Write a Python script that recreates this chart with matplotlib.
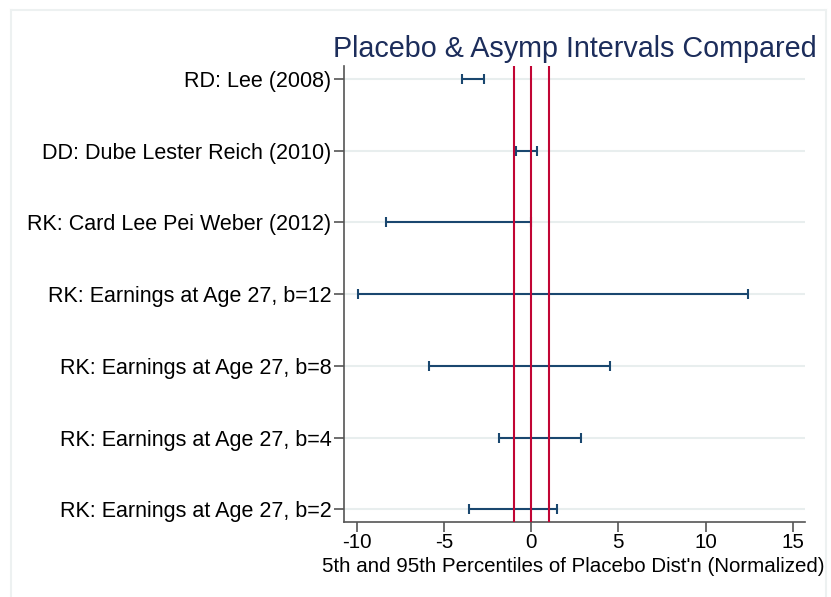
import numpy as np
import matplotlib
matplotlib.use("Agg")
import matplotlib.pyplot as plt
from matplotlib.lines import Line2D

# ---- data ----
labels = [
    "RD: Lee (2008)",
    "DD: Dube Lester Reich (2010)",
    "RK: Card Lee Pei Weber (2012)",
    "RK: Earnings at Age 27, b=12",
    "RK: Earnings at Age 27, b=8",
    "RK: Earnings at Age 27, b=4",
    "RK: Earnings at Age 27, b=2",
]
lo = [-3.94, -0.88, -8.31, -9.91, -5.83, -1.85, -3.57]
hi = [-2.71, 0.34, -0.02, 12.42, 4.53, 2.88, 1.51]
ref_lines = [-1, 0, 1]
xticks = [-10, -5, 0, 5, 10, 15]

navy = "#1a476f"
red = "#c10534"
grid_c = "#e8eeee"
spine_c = "#555555"

plt.rcParams["font.family"] = ["Liberation Sans", "DejaVu Sans"]

W, H = 831, 597
fig = plt.figure(figsize=(W / 100, H / 100), dpi=100)
ax = fig.add_axes([344 / W, (H - 522.3) / H, (805 - 344) / W, (522.3 - 66) / H])

ypos = np.arange(1, len(labels) + 1)
lo = np.array(lo)
hi = np.array(hi)

for y in ypos:
    ax.axhline(y, color=grid_c, lw=1.5, zorder=0)

ax.errorbar((lo + hi) / 2, ypos, xerr=(hi - lo) / 2, fmt="none",
            ecolor=navy, elinewidth=1.5, capsize=3.8, capthick=1.5, zorder=3)

for x in ref_lines:
    ax.axvline(x, color=red, lw=1.5, zorder=4)

ax.set_xlim(-10.72, 15.7)
ax.set_ylim(7.18, 0.82)
ax.set_xticks(xticks)
ax.set_xticklabels([str(t) for t in xticks])
ax.set_yticks(ypos)
ax.set_yticklabels(labels)

for s in ["top", "right"]:
    ax.spines[s].set_visible(False)
for s in ["left", "bottom"]:
    ax.spines[s].set_color(spine_c)
    ax.spines[s].set_linewidth(1.2)
ax.tick_params(axis="both", colors=spine_c, labelcolor="black",
               length=7, width=1.2, pad=2)
ax.tick_params(axis="y", labelsize=15.5)
ax.tick_params(axis="x", labelsize=14.8, pad=1)

fig.text(817 / W, (H - 56.7) / H, "Placebo & Asymp Intervals Compared",
         ha="right", va="baseline", fontsize=20.7, color="#1c2d5b")
fig.text(825 / W, (H - 566) / H, "5th and 95th Percentiles of Placebo Dist'n (Normalized)",
         ha="right", va="center", fontsize=14.8, color="black")

# faint outer graph-region frame
fc = "#edf1f1"
fig.add_artist(Line2D([10.5 / W, 10.5 / W], [0, 1 - 9.5 / H], color=fc, lw=1.5, transform=fig.transFigure))
fig.add_artist(Line2D([10.5 / W, 826 / W], [1 - 9.5 / H, 1 - 9.5 / H], color=fc, lw=1.5, transform=fig.transFigure))
fig.add_artist(Line2D([826 / W, 826 / W], [0, 1 - 9.5 / H], color=fc, lw=1.5, transform=fig.transFigure))

fig.savefig("out.png", dpi=100)
